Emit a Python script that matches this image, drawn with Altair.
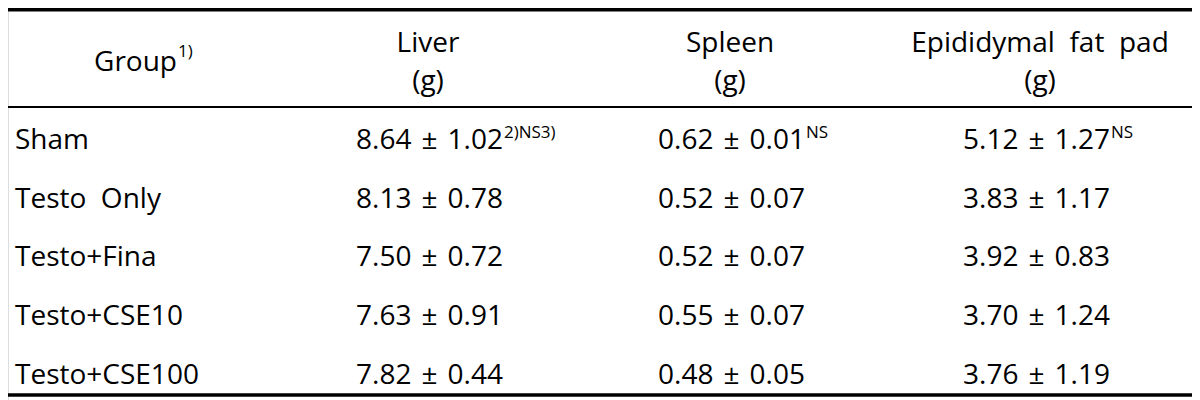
import altair as alt
import pandas as pd

# ---- data ----
groups = ["Sham", "Testo\u00a0\u00a0Only", "Testo+Fina", "Testo+CSE10", "Testo+CSE100"]
liver_mean = [8.64, 8.13, 7.50, 7.63, 7.82]
liver_sd = [1.02, 0.78, 0.72, 0.91, 0.44]
spleen_mean = [0.62, 0.52, 0.52, 0.55, 0.48]
spleen_sd = [0.01, 0.07, 0.07, 0.07, 0.05]
fat_mean = [5.12, 3.83, 3.92, 3.70, 3.76]
fat_sd = [1.27, 1.17, 0.83, 1.24, 1.19]
liver_note = ["2)NS3)", "", "", "", ""]
spleen_note = ["NS", "", "", "", ""]
fat_note = ["NS", "", "", "", ""]
header_titles = ["Liver", "Spleen", "Epididymal\u00a0\u00a0fat\u00a0\u00a0pad"]
header_units = ["(g)", "(g)", "(g)"]
group_header = "Group"
group_header_note = "1)"

# ---- layout (page pixel coordinates) ----
FONT = "Open Sans"
MAIN = 28
SUP = 17
col_center = [428, 730, 1040]
col_end = [503, 805, 1110]
label_x = 15
group_end = 177
head_y1, head_y2, group_y = 52, 90, 71
row_y = [149, 207.5, 266, 325, 383.5]
sup_raise = 11

xs = alt.Scale(domain=[8, 1192], range=[0, 1184])
ys = alt.Scale(domain=[8, 400], range=[0, 392])

thick_rules = pd.DataFrame({"x": [6, 6], "x2": [1194, 1194], "y": [9.75, 395]})
thin_rules = pd.DataFrame({"x": [6], "x2": [1194], "y": [107]})

center_rows = []
for t, u, c in zip(header_titles, header_units, col_center):
    center_rows.append({"x": c, "y": head_y1, "t": t})
    center_rows.append({"x": c, "y": head_y2, "t": u})
center_df = pd.DataFrame(center_rows)

left_rows = [{"x": label_x, "y": y, "t": g} for g, y in zip(groups, row_y)]
left_df = pd.DataFrame(left_rows)

right_rows = [{"x": group_end, "y": group_y, "t": group_header}]
sup_rows = [{"x": group_end + 1, "y": group_y - sup_raise - 3, "t": group_header_note}]
for means, sds, notes, e in [(liver_mean, liver_sd, liver_note, col_end[0]),
                             (spleen_mean, spleen_sd, spleen_note, col_end[1]),
                             (fat_mean, fat_sd, fat_note, col_end[2])]:
    for m, s, n, y in zip(means, sds, notes, row_y):
        right_rows.append({"x": e, "y": y, "t": f"{m:.2f}\u00a0\u200a\u00b1\u00a0\u200a{s:.2f}"})
        if n:
            sup_rows.append({"x": e + 1, "y": y - sup_raise, "t": n})
right_df = pd.DataFrame(right_rows)
sup_df = pd.DataFrame(sup_rows)


def rule_layer(df, w):
    return alt.Chart(df).mark_rule(color="#000000", strokeWidth=w).encode(
        x=alt.X("x:Q", scale=xs, axis=None),
        x2="x2:Q",
        y=alt.Y("y:Q", scale=ys, axis=None),
    )


def text_layer(df, align, size):
    return alt.Chart(df).mark_text(
        align=align, baseline="alphabetic", font=FONT, fontSize=size, color="#000000"
    ).encode(
        x=alt.X("x:Q", scale=xs, axis=None),
        y=alt.Y("y:Q", scale=ys, axis=None),
        text="t:N",
    )


chart = alt.layer(
    rule_layer(thick_rules, 3.5),
    rule_layer(thin_rules, 2),
    text_layer(center_df, "center", MAIN),
    text_layer(left_df, "left", MAIN),
    text_layer(right_df, "right", MAIN),
    text_layer(sup_df, "left", SUP),
).properties(
    width=1184, height=392, padding=0, autosize=alt.AutoSizeParams(type="none")
).configure_view(stroke=None, clip=False).configure(background="#ffffff")

chart.save("out.html", embed_options={"renderer": "svg", "actions": False})
